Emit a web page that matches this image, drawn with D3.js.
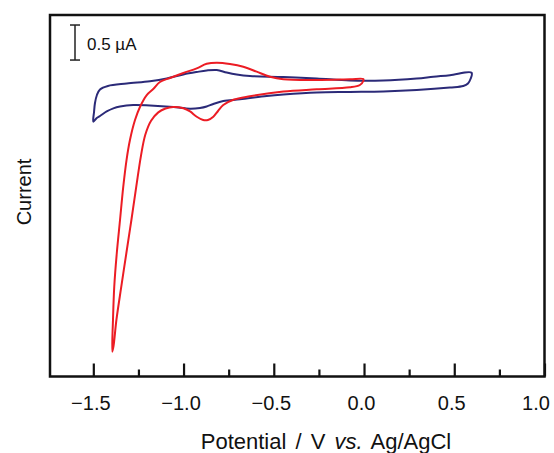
<!DOCTYPE html>
<html>
<head>
<meta charset="utf-8">
<script src="https://cdn.jsdelivr.net/npm/d3@7"></script>
<style>
  html, body { margin: 0; padding: 0; background: #fff; }
  svg { display: block; }
  text { font-family: "Liberation Sans", Arial, Helvetica, sans-serif; fill: #111; }
</style>
</head>
<body>
<svg id="chart" width="554" height="453"></svg>
<script>
// ---- data (potential in V vs Ag/AgCl, current in µA, arbitrary offset) ----
const xMajorTicks = [-1.5, -1.0, -0.5, 0.0, 0.5, 1.0];
const xMinorTicks = [-1.25, -0.75, -0.25, 0.25, 0.75];
const xTitle = ["Potential / V ", "vs.", " Ag/AgCl"];
const yTitle = "Current";
const scaleBarValue = 0.5;
const scaleBarLabel = "0.5 µA";

// blank electrolyte CV (navy)
const blueV = [0.596, 0.476, 0.384, 0.292, 0.107, -0.078, -0.262, -0.447, -0.632, -0.706, -0.761, -0.816, -0.872, -0.927, -1.001, -1.093, -1.186, -1.315, -1.419, -1.463, -1.480, -1.491, -1.496, -1.500,
  -1.481, -1.463, -1.426, -1.389, -1.352, -1.279, -1.186, -1.057, -0.964, -0.909, -0.872, -0.835, -0.780, -0.687, -0.539, -0.447, -0.262, -0.078, 0.107, 0.292, 0.476, 0.550, 0.576, 0.590];
const blueI = [0.236, 0.201, 0.179, 0.154, 0.125, 0.125, 0.154, 0.175, 0.189, 0.211, 0.239, 0.275, 0.268, 0.246, 0.211, 0.154, 0.115, 0.082, 0.047, -0.003, -0.082, -0.200, -0.325, -0.463,
  -0.410, -0.382, -0.317, -0.272, -0.246, -0.225, -0.232, -0.253, -0.277, -0.267, -0.246, -0.210, -0.168, -0.143, -0.096, -0.075, -0.046, -0.039, -0.032, -0.011, 0.025, 0.047, 0.082, 0.146];

// sample CV (red)
const redV = [-0.004, -0.078, -0.262, -0.447, -0.521, -0.595, -0.669, -0.743, -0.816, -0.872, -0.927, -1.001, -1.075, -1.131, -1.168, -1.204, -1.241, -1.269, -1.297, -1.316, -1.334, -1.352, -1.370, -1.384, -1.391, -1.395,
  -1.388, -1.372, -1.345, -1.317, -1.289, -1.262, -1.236, -1.212, -1.180, -1.140, -1.100, -1.057, -1.001, -0.964, -0.927, -0.891, -0.865, -0.835, -0.809, -0.780, -0.724, -0.632, -0.447, -0.262, -0.078, -0.023, -0.004];
const redI = [0.146, 0.142, 0.132, 0.142, 0.179, 0.251, 0.322, 0.361, 0.379, 0.363, 0.299, 0.232, 0.161, 0.104, 0.004, -0.082, -0.249, -0.439, -0.724, -1.010, -1.391, -1.866, -2.341, -2.818, -3.293, -3.746,
  -3.665, -3.293, -2.818, -2.341, -1.866, -1.391, -0.950, -0.650, -0.450, -0.330, -0.275, -0.253, -0.272, -0.317, -0.392, -0.439, -0.439, -0.392, -0.310, -0.225, -0.150, -0.100, -0.032, -0.001, 0.028, 0.061, 0.118];

// ---- layout ----
const svg = d3.select("#chart");
const frame = { left: 50, right: 544.5, top: 15, bottom: 376.5 };

const x = d3.scaleLinear().domain([-1.74, 1.0]).range([frame.left, frame.right]);
const y = d3.scaleLinear().domain([-4.1, 1.06]).range([frame.bottom, frame.top]);

const line = d3.line()
  .x(d => x(d[0]))
  .y(d => y(d[1]))
  .curve(d3.curveCatmullRomClosed.alpha(0.5));

const blue = blueV.map((v, i) => [v, blueI[i]]);
const red = redV.map((v, i) => [v, redI[i]]);

svg.append("path").datum(blue).attr("d", line)
  .attr("fill", "none").attr("stroke", "#2b2a78").attr("stroke-width", 2).attr("stroke-linejoin", "round");
svg.append("path").datum(red).attr("d", line)
  .attr("fill", "none").attr("stroke", "#ec1c24").attr("stroke-width", 2).attr("stroke-linejoin", "round");

// frame
svg.append("rect")
  .attr("x", frame.left).attr("y", frame.top)
  .attr("width", frame.right - frame.left).attr("height", frame.bottom - frame.top)
  .attr("fill", "none").attr("stroke", "#111").attr("stroke-width", 2.5);

// major ticks (inward) with labels
const fmt = d3.format(".1f");
const axMajor = svg.append("g")
  .attr("transform", `translate(0,${frame.bottom})`)
  .call(d3.axisBottom(x).tickValues(xMajorTicks).tickSizeInner(-13).tickSizeOuter(0).tickPadding(19).tickFormat(fmt));
axMajor.select(".domain").remove();
axMajor.selectAll(".tick line").attr("stroke", "#111").attr("stroke-width", 2.2);
axMajor.selectAll(".tick text")
  .attr("font-size", 20)
  .attr("dx", (d, i) => i === xMajorTicks.length - 1 ? -9 : -3)
  .style("font-family", '"Liberation Sans", Arial, sans-serif').attr("fill", "#111");

// minor ticks
const axMinor = svg.append("g")
  .attr("transform", `translate(0,${frame.bottom})`)
  .call(d3.axisBottom(x).tickValues(xMinorTicks).tickSizeInner(-7).tickSizeOuter(0).tickFormat(""));
axMinor.select(".domain").remove();
axMinor.selectAll(".tick line").attr("stroke", "#111").attr("stroke-width", 2.2);

// x title
const xt = svg.append("text")
  .attr("x", 326).attr("y", 449)
  .attr("text-anchor", "middle")
  .attr("font-size", 22)
  .style("word-spacing", "3px");
xt.append("tspan").text(xTitle[0]);
xt.append("tspan").attr("font-style", "italic").text(xTitle[1]);
xt.append("tspan").text(xTitle[2]);

// y title
svg.append("text")
  .attr("transform", "translate(31,192) rotate(-90)")
  .attr("text-anchor", "middle")
  .attr("font-size", 20)
  .text(yTitle);

// scale bar
const sbX = 75, sbTop = 0.917;
const sb = svg.append("g").attr("stroke", "#222").attr("stroke-width", 1.5);
sb.append("line").attr("x1", sbX).attr("x2", sbX).attr("y1", y(sbTop)).attr("y2", y(sbTop - scaleBarValue));
sb.append("line").attr("x1", sbX - 5).attr("x2", sbX + 5).attr("y1", y(sbTop)).attr("y2", y(sbTop));
sb.append("line").attr("x1", sbX - 5).attr("x2", sbX + 5).attr("y1", y(sbTop - scaleBarValue)).attr("y2", y(sbTop - scaleBarValue));
svg.append("text")
  .attr("x", 87).attr("y", 50)
  .attr("font-size", 17)
  .text(scaleBarLabel);
</script>
</body>
</html>
